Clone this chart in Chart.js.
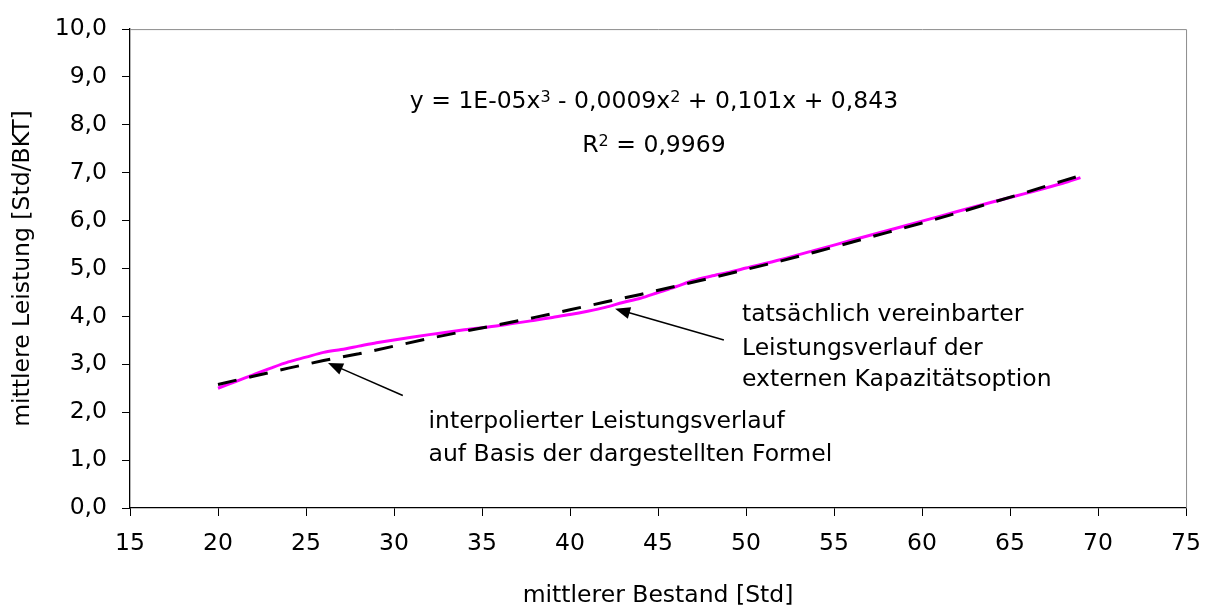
<!DOCTYPE html>
<html>
<head>
<meta charset="utf-8">
<script src="https://cdn.jsdelivr.net/npm/chart.js@4.4.0/dist/chart.umd.min.js"></script>
<style>
    html, body { margin: 0; padding: 0; background: #fff; }
</style>
</head>
<body>
<canvas id="graficoLeistung" width="1215" height="611"></canvas>
<script>
// tatsaechlich vereinbarter Leistungsverlauf (magenta)
const bestandIst = [20, 21, 22, 23, 24, 25, 26, 27, 28, 29, 30, 32, 34, 36, 38, 39, 40, 41, 42, 43, 44, 45, 46, 47, 48, 49, 50, 52, 54, 56, 58, 60, 62, 64, 66, 68, 69]
const leistungIst = [2.50, 2.64, 2.78, 2.92, 3.05, 3.15, 3.25, 3.31, 3.38, 3.45, 3.51, 3.62, 3.72, 3.81, 3.92, 3.98, 4.04, 4.11, 4.19, 4.29, 4.38, 4.50, 4.62, 4.75, 4.84, 4.92, 5.01, 5.19, 5.39, 5.59, 5.79, 5.99, 6.19, 6.39, 6.58, 6.78, 6.90]

// interpolierter Leistungsverlauf (Trendlinie, gestrichelt)
const bestandTrend = [20, 22, 24, 26, 28, 30, 32, 34, 36, 38, 40, 42, 44, 46, 48, 50, 52, 54, 56, 58, 60, 62, 64, 66, 68, 69]
const leistungTrend = [2.58, 2.75, 2.92, 3.08, 3.22, 3.38, 3.54, 3.69, 3.83, 3.98, 4.14, 4.30, 4.46, 4.63, 4.80, 4.98, 5.16, 5.35, 5.55, 5.75, 5.95, 6.16, 6.38, 6.60, 6.83, 6.94]

const xTicks = [15, 20, 25, 30, 35, 40, 45, 50, 55, 60, 65, 70, 75]
const yTicks = [0, 1, 2, 3, 4, 5, 6, 7, 8, 9, 10]

const schrift = "'DejaVu Sans', sans-serif"

function paare(xs, ys) {
    return xs.map((x, i) => ({ x: x, y: ys[i] }))
}

function pfeil(ctx, x1, y1, x2, y2) {
    // Linie von (x1,y1) zur Spitze (x2,y2)
    let ang = Math.atan2(y2 - y1, x2 - x1)
    let len = 15, half = 6
    ctx.beginPath()
    ctx.moveTo(x1, y1)
    ctx.lineTo(x2 - Math.cos(ang) * len * 0.8, y2 - Math.sin(ang) * len * 0.8)
    ctx.lineWidth = 1.5
    ctx.strokeStyle = '#000'
    ctx.stroke()
    ctx.beginPath()
    ctx.moveTo(x2, y2)
    ctx.lineTo(x2 - Math.cos(ang) * len + Math.sin(ang) * half, y2 - Math.sin(ang) * len - Math.cos(ang) * half)
    ctx.lineTo(x2 - Math.cos(ang) * len - Math.sin(ang) * half, y2 - Math.sin(ang) * len + Math.cos(ang) * half)
    ctx.closePath()
    ctx.fillStyle = '#000'
    ctx.fill()
}

function hochText(ctx, teile, cx, by) {
    // teile: [text, hochgestellt?]
    let breiten = teile.map(t => {
        ctx.font = (t[1] ? '16px ' : '23.5px ') + schrift
        return ctx.measureText(t[0]).width
    })
    let gesamt = breiten.reduce((a, b) => a + b, 0)
    let x = cx - gesamt / 2
    ctx.textAlign = 'left'
    ctx.textBaseline = 'alphabetic'
    teile.forEach((t, i) => {
        ctx.font = (t[1] ? '16px ' : '23.5px ') + schrift
        ctx.fillText(t[0], x, t[1] ? by - 6 : by)
        x += breiten[i]
    })
}

const rahmenUndText = {
    id: 'rahmenUndText',
    beforeDatasetsDraw(chart) {
        const { ctx, chartArea } = chart
        ctx.save()
        ctx.strokeStyle = '#8c8c8c'
        ctx.lineWidth = 1
        ctx.beginPath()
        ctx.moveTo(chartArea.left, chartArea.top + 0.5)
        ctx.lineTo(chartArea.right + 0.5, chartArea.top + 0.5)
        ctx.lineTo(chartArea.right + 0.5, chartArea.bottom)
        ctx.stroke()
        ctx.restore()
    },
    afterDatasetsDraw(chart) {
        const ctx = chart.ctx
        const sx = chart.scales.x, sy = chart.scales.y
        ctx.save()
        ctx.fillStyle = '#000'

        hochText(ctx, [['y = 1E-05x', false], ['3', true], [' - 0,0009x', false], ['2', true], [' + 0,101x + 0,843', false]],
            sx.getPixelForValue(44.77), sy.getPixelForValue(8.36))
        hochText(ctx, [['R', false], ['2', true], [' = 0,9969', false]],
            sx.getPixelForValue(44.77), sy.getPixelForValue(7.44))

        ctx.font = '23.5px ' + schrift
        ctx.textAlign = 'left'
        ctx.textBaseline = 'alphabetic'
        let x1 = sx.getPixelForValue(49.77)
        ctx.fillText('tatsächlich vereinbarter', x1, sy.getPixelForValue(3.91))
        ctx.fillText('Leistungsverlauf der', x1, sy.getPixelForValue(3.20))
        ctx.fillText('externen Kapazitätsoption', x1, sy.getPixelForValue(2.55))

        let x2 = sx.getPixelForValue(31.96)
        ctx.fillText('interpolierter Leistungsverlauf', x2, sy.getPixelForValue(1.67))
        ctx.fillText('auf Basis der dargestellten Formel', x2, sy.getPixelForValue(0.98))

        pfeil(ctx, sx.getPixelForValue(30.5), sy.getPixelForValue(2.35), sx.getPixelForValue(26.25), sy.getPixelForValue(3.03))
        pfeil(ctx, sx.getPixelForValue(48.74), sy.getPixelForValue(3.51), sx.getPixelForValue(42.56), sy.getPixelForValue(4.16))
        ctx.restore()
    }
}

const graficoLeistung = new Chart(document.getElementById('graficoLeistung'), {
    type: 'scatter',
    data: {
        datasets: [{
            label: 'Trend',
            data: paare(bestandTrend, leistungTrend),
            showLine: true,
            borderColor: '#000000',
            borderWidth: 3,
            borderDash: [19, 13],
            pointRadius: 0,
            order: 0
        }, {
            label: 'Ist',
            data: paare(bestandIst, leistungIst),
            showLine: true,
            borderColor: '#ff00ff',
            borderWidth: 3,
            tension: 0.3,
            pointRadius: 0,
            order: 1
        }]
    },
    options: {
        responsive: false,
        animation: false,
        layout: { padding: { left: 0, right: 27, top: 20, bottom: 0 } },
        plugins: {
            legend: { display: false },
            tooltip: { enabled: false }
        },
        scales: {
            x: {
                type: 'linear',
                min: 15,
                max: 75,
                afterBuildTicks: axis => { axis.ticks = xTicks.map(v => ({ value: v })) },
                afterFit: axis => { axis.height = 103 },
                grid: { drawOnChartArea: false, tickLength: 8, color: '#000' },
                border: { color: '#000', width: 1.3 },
                ticks: {
                    color: '#000',
                    font: { family: schrift, size: 23.5 },
                    padding: 14,
                    maxRotation: 0
                },
                title: {
                    display: true,
                    text: 'mittlerer Bestand [Std]',
                    color: '#000',
                    font: { family: schrift, size: 23.5 },
                    padding: { top: 0, bottom: 1 }
                }
            },
            y: {
                min: 0,
                max: 10,
                afterBuildTicks: axis => { axis.ticks = yTicks.map(v => ({ value: v })) },
                afterFit: axis => { axis.width = 130 },
                grid: { drawOnChartArea: false, tickLength: 8, color: '#000' },
                border: { color: '#000', width: 1.3 },
                ticks: {
                    color: '#000',
                    font: { family: schrift, size: 23.5 },
                    padding: 15,
                    callback: v => v.toFixed(1).replace('.', ',')
                },
                title: {
                    display: true,
                    text: 'mittlere Leistung [Std/BKT]',
                    color: '#000',
                    font: { family: schrift, size: 23.5 },
                    padding: { top: 9, bottom: 0 }
                }
            }
        }
    },
    plugins: [rahmenUndText]
})
</script>
</body>
</html>
